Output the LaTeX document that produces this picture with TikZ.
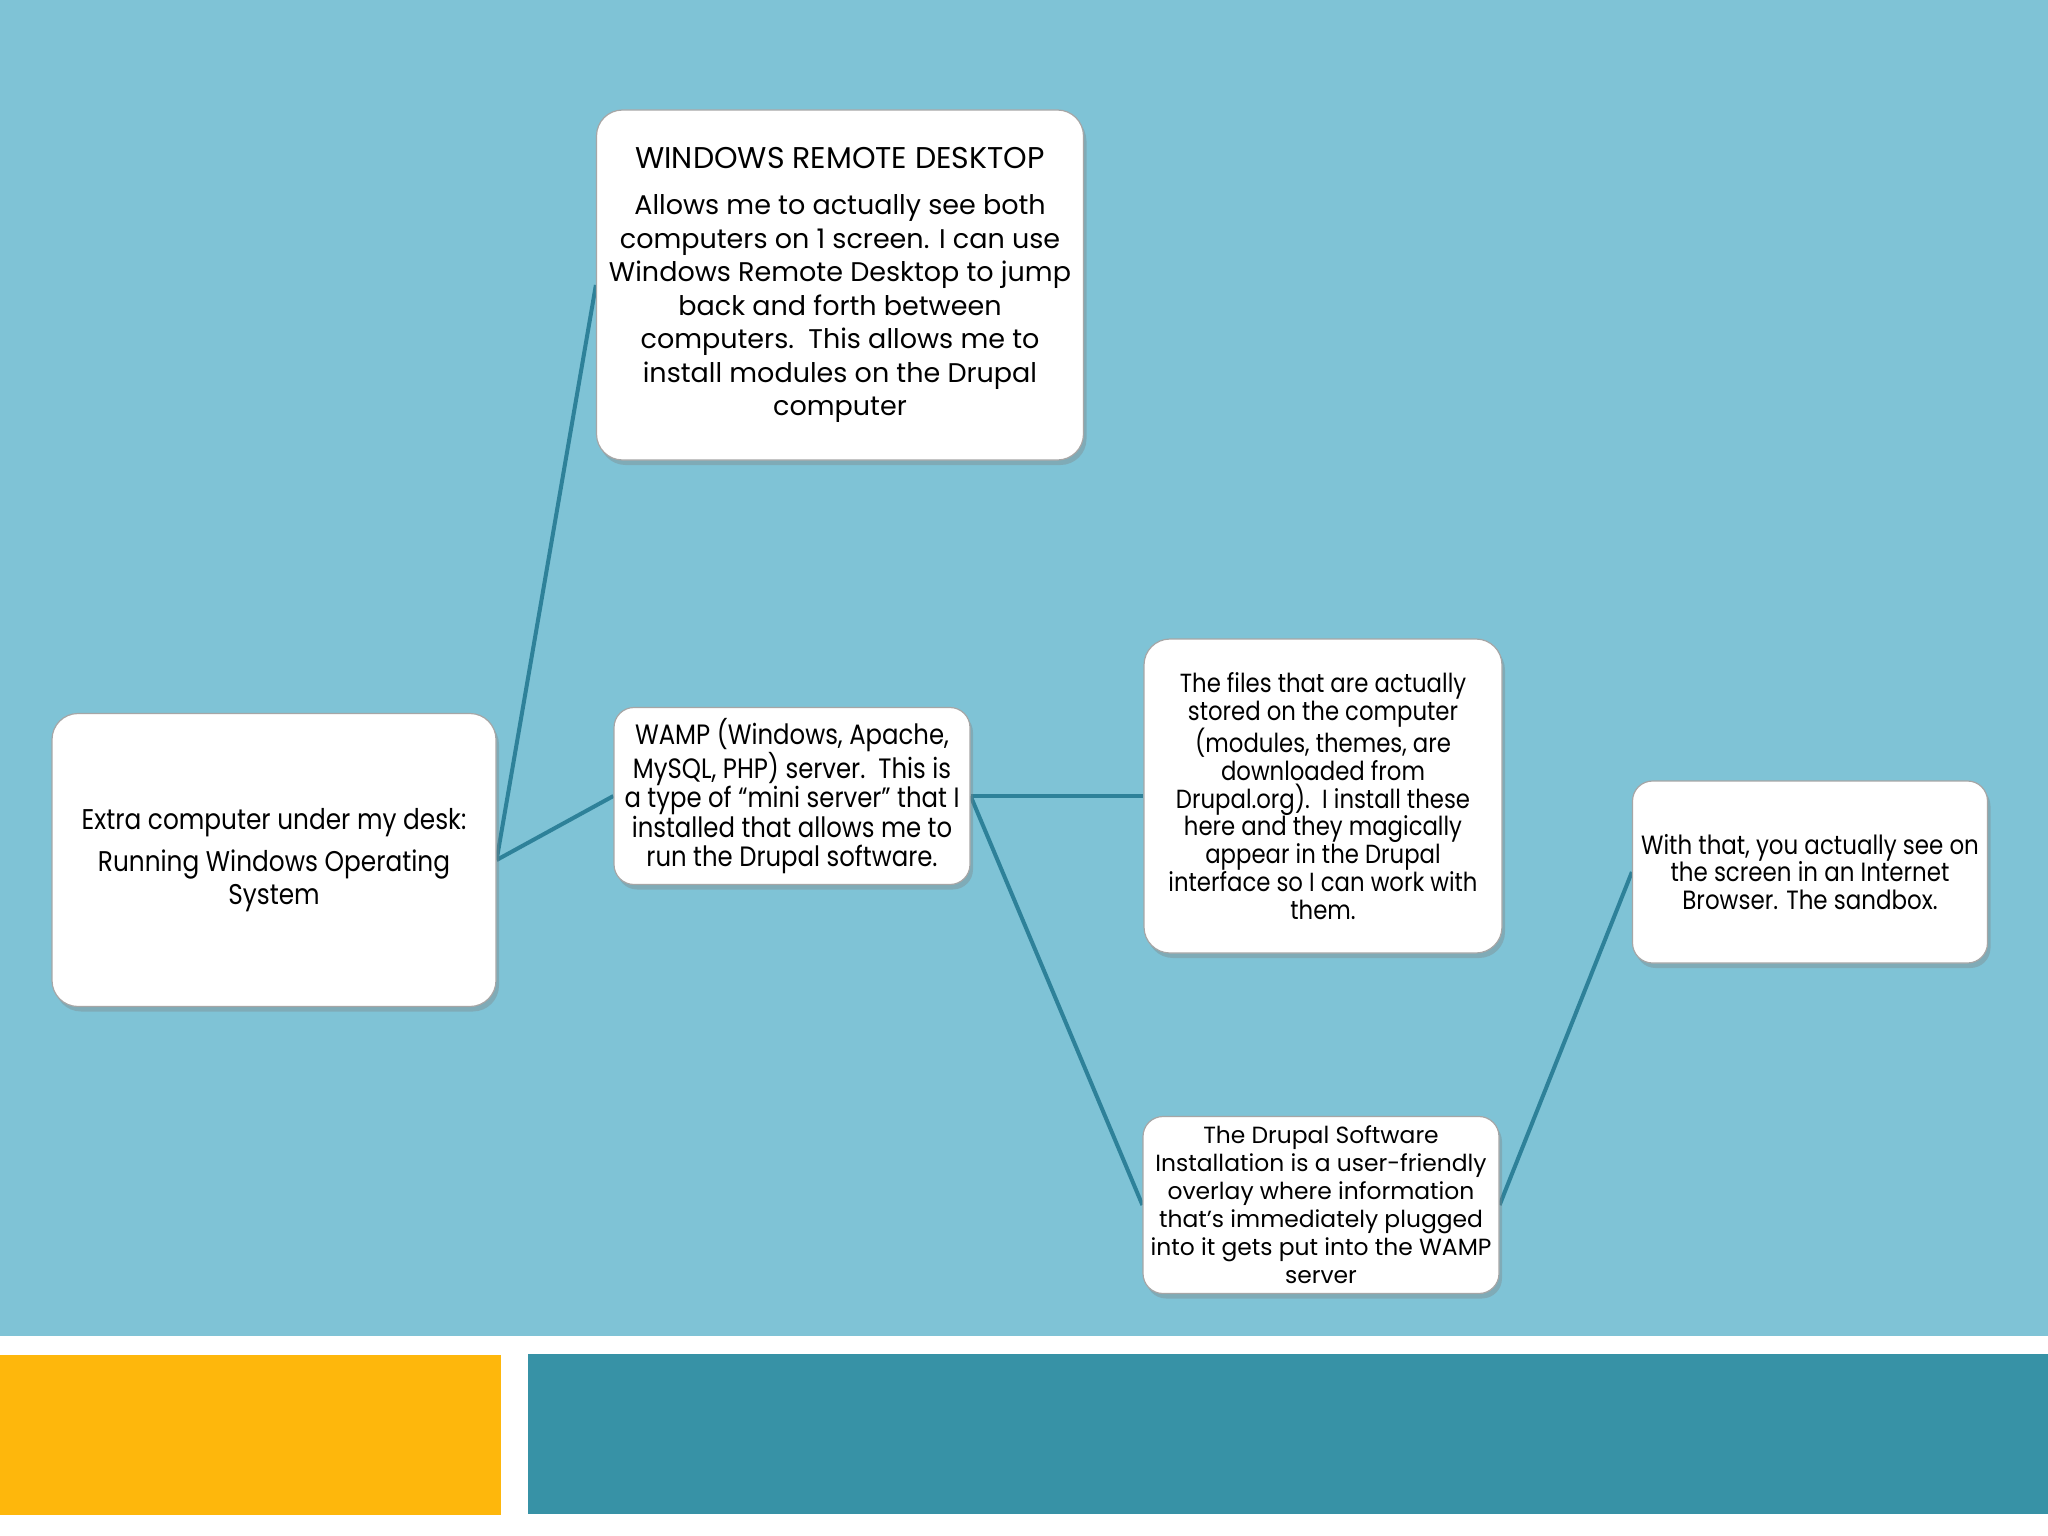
\documentclass[tikz,border=0pt]{standalone}
\usepackage{fontspec}
\setmainfont{Poppins}
\newfontfamily\pfont{Poppins}
\newfontfamily\cfont[FakeStretch=0.87]{Poppins}
\usetikzlibrary{shadows}
\definecolor{bgblue}{HTML}{7FC3D6}
\definecolor{orng}{HTML}{FEB70C}
\definecolor{tealbar}{HTML}{3792A6}
\definecolor{edgec}{HTML}{2E8199}
\pgfdeclarelayer{bglayer}
\pgfdeclarelayer{edgelayer}
\pgfsetlayers{bglayer,edgelayer,main}
\begin{document}
\begin{tikzpicture}[x=1pt,y=-1pt,
  box/.style={draw=black!35, line width=1.2pt, fill=white, rounded corners=26pt,
    align=center, inner sep=0pt,
    drop shadow={shadow xshift=3pt,shadow yshift=-5pt,opacity=0.35}},
  link/.style={draw=edgec, line width=4pt}]
\useasboundingbox (0,0) rectangle (2048,1536);
\begin{pgfonlayer}{bglayer}
\fill[white] (0,0) rectangle (2048,1536);
\fill[bgblue] (0,0) rectangle (2048,1336);
\fill[orng] (0,1355) rectangle (501,1515);
\fill[tealbar] (528,1354) rectangle (2048,1514);
\end{pgfonlayer}

\node[box, minimum width=444pt, minimum height=293pt, font=\cfont\fontsize{28.5}{33}\selectfont] (extra) at (274,860)
  {Extra computer under my desk:\\[9pt] Running Windows Operating\\ System};
\node[box, minimum width=487pt, minimum height=350pt, font=\pfont\fontsize{27}{33.5}\selectfont] (wrd) at (840,285)
  {{\fontsize{30}{33.5}\selectfont WINDOWS REMOTE DESKTOP}\\[13pt] Allows me to actually see both\\ computers on 1 screen. I can use\\ Windows Remote Desktop to jump\\ back and forth between\\ computers.\ \ This allows me to\\ install modules on the Drupal\\ computer};
\node[box, minimum width=356pt, minimum height=177pt, rounded corners=20pt, font=\cfont\fontsize{28}{29.4}\selectfont] (wamp) at (792,796)
  {WAMP (Windows, Apache,\\ MySQL, PHP) server.\ \ This is\\ a type of “mini server” that I\\ installed that allows me to\\ run the Drupal software.};
\node[box, minimum width=358pt, minimum height=314pt, font=\cfont\fontsize{26.2}{27.8}\selectfont] (files) at (1323,796)
  {The files that are actually\\ stored on the computer\\ (modules, themes, are\\ downloaded from\\ Drupal.org).\ \ I install these\\ here and they magically\\ appear in the Drupal\\ interface so I can work with\\ them.};
\node[box, minimum width=356pt, minimum height=177pt, rounded corners=20pt, font=\pfont\fontsize{23.4}{28}\selectfont] (drupal) at (1321,1205)
  {The Drupal Software\\ Installation is a user-friendly\\ overlay where information\\ that’s immediately plugged\\ into it gets put into the WAMP\\ server};
\node[box, minimum width=355pt, minimum height=182pt, rounded corners=20pt, font=\cfont\fontsize{26.4}{27.5}\selectfont] (with) at (1810,872)
  {With that, you actually see on\\ the screen in an Internet\\ Browser. The sandbox.};

\begin{pgfonlayer}{edgelayer}
\draw[link] (extra.east) -- (wrd.west);
\draw[link] (extra.east) -- (wamp.west);
\draw[link] (wamp.east) -- (files.west);
\draw[link] (wamp.east) -- (drupal.west);
\draw[link] (drupal.east) -- (with.west);
\end{pgfonlayer}
\end{tikzpicture}
\end{document}
